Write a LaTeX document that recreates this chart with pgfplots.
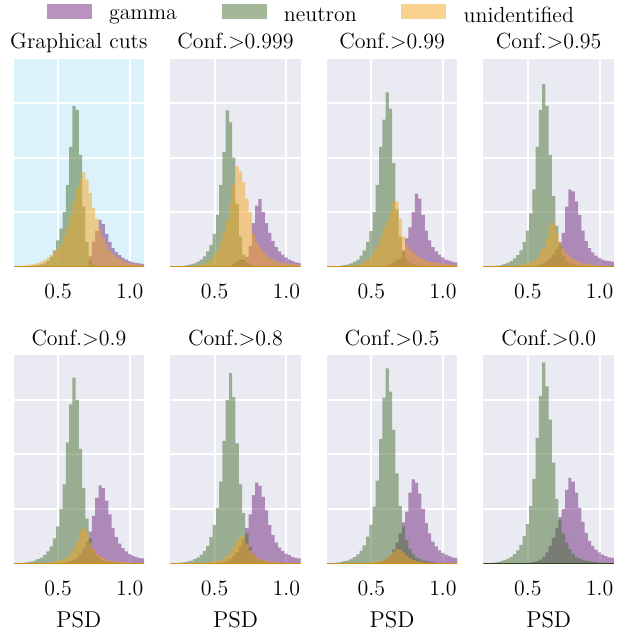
\documentclass[border=0pt]{standalone}
\usepackage{pgfplots}
\usepackage{pgfplotstable}
\pgfplotsset{compat=1.18}
\usepgfplotslibrary{groupplots}

\definecolor{gam}{RGB}{113,41,127}
\definecolor{neu}{RGB}{71,113,49}
\definecolor{uni}{RGB}{245,165,31}
\definecolor{panelbg}{RGB}{234,234,242}
\definecolor{cutbg}{RGB}{220,242,250}

% bin left edges (40 bins from 0.19 to 1.10), counts in grid units
% columns: g = gamma, n = neutron, u = unidentified
\pgfplotstableread{
x g n u
0.190 0 0 0
0.213 0 0 0
0.236 0 0 0.01
0.258 0 0 0.02
0.281 0 0 0.03
0.304 0 0.01 0.04
0.327 0 0.02 0.05
0.349 0 0.03 0.07
0.372 0 0.04 0.09
0.395 0 0.06 0.12
0.418 0 0.10 0.16
0.440 0 0.18 0.21
0.463 0 0.30 0.27
0.486 0 0.48 0.33
0.509 0 0.70 0.42
0.531 0 1.00 0.55
0.554 0 1.50 0.72
0.577 0 2.20 0.95
0.600 0 2.95 1.20
0.622 0 2.88 1.45
0.645 0 2.05 1.62
0.668 0 1.10 1.73
0.691 0 0.45 1.60
0.713 0.19 0.12 1.35
0.736 0.46 0.03 1.08
0.759 0.65 0 0.88
0.782 0.86 0 0.70
0.804 0.78 0 0.53
0.827 0.60 0 0.40
0.850 0.45 0 0.30
0.873 0.34 0 0.23
0.895 0.27 0 0.18
0.918 0.21 0 0.14
0.941 0.16 0 0.11
0.964 0.13 0 0.08
0.986 0.10 0 0.06
1.009 0.08 0 0.05
1.032 0.07 0 0.04
1.055 0.06 0 0.03
1.077 0.05 0 0.03
1.100 0 0 0
}\tA

\pgfplotstableread{
x g n u
0.190 0 0 0
0.213 0 0 0
0.236 0 0.005 0
0.258 0 0.01 0
0.281 0 0.02 0
0.304 0 0.03 0.005
0.327 0 0.04 0.01
0.349 0 0.06 0.015
0.372 0 0.09 0.02
0.395 0 0.13 0.03
0.418 0 0.19 0.05
0.440 0 0.28 0.08
0.463 0 0.40 0.13
0.486 0 0.60 0.20
0.509 0 0.95 0.30
0.531 0 1.50 0.45
0.554 0 2.10 0.62
0.577 0 2.87 0.85
0.600 0.02 2.65 1.15
0.622 0.05 2.00 1.50
0.645 0.09 1.15 1.84
0.668 0.13 0.55 1.75
0.691 0.12 0.22 1.55
0.713 0.18 0.08 1.25
0.736 0.38 0.04 1.00
0.759 0.80 0.02 0.60
0.782 1.12 0.01 0.46
0.804 1.24 0.01 0.36
0.827 1.00 0 0.28
0.850 0.80 0 0.21
0.873 0.62 0 0.16
0.895 0.47 0 0.13
0.918 0.36 0 0.10
0.941 0.28 0 0.08
0.964 0.22 0 0.07
0.986 0.17 0 0.06
1.009 0.13 0 0.05
1.032 0.10 0 0.04
1.055 0.08 0 0.04
1.077 0.07 0 0.03
1.100 0 0 0
}\tB

\pgfplotstableread{
x g n u
0.190 0 0 0
0.213 0 0 0
0.236 0 0.005 0
0.258 0 0.01 0
0.281 0 0.02 0.005
0.304 0 0.03 0.005
0.327 0 0.04 0.01
0.349 0 0.06 0.015
0.372 0 0.09 0.02
0.395 0 0.13 0.03
0.418 0 0.20 0.05
0.440 0 0.30 0.08
0.463 0 0.45 0.12
0.486 0 0.65 0.18
0.509 0 1.00 0.27
0.531 0 1.50 0.38
0.554 0 2.20 0.52
0.577 0 2.70 0.68
0.600 0.02 3.20 0.82
0.622 0.05 2.90 1.00
0.645 0.08 1.90 1.18
0.668 0.12 1.05 1.20
0.691 0.15 0.55 0.88
0.713 0.30 0.28 0.55
0.736 0.52 0.13 0.40
0.759 0.72 0.07 0.32
0.782 1.00 0.04 0.26
0.804 1.34 0.03 0.21
0.827 1.25 0.02 0.17
0.850 0.95 0.015 0.14
0.873 0.66 0.01 0.11
0.895 0.48 0.005 0.09
0.918 0.36 0.005 0.08
0.941 0.28 0 0.07
0.964 0.22 0 0.06
0.986 0.17 0 0.05
1.009 0.13 0 0.04
1.032 0.11 0 0.04
1.055 0.09 0 0.03
1.077 0.08 0 0.03
1.100 0 0 0
}\tC

\pgfplotstableread{
x g n u
0.190 0 0 0
0.213 0 0.005 0
0.236 0 0.01 0
0.258 0 0.015 0
0.281 0 0.02 0
0.304 0 0.03 0.005
0.327 0 0.05 0.005
0.349 0 0.07 0.01
0.372 0 0.10 0.01
0.395 0 0.15 0.015
0.418 0 0.21 0.02
0.440 0 0.30 0.03
0.463 0 0.45 0.04
0.486 0 0.66 0.06
0.509 0 0.98 0.08
0.531 0.01 1.42 0.11
0.554 0.02 2.20 0.16
0.577 0.04 2.88 0.24
0.600 0.06 3.35 0.34
0.622 0.10 2.95 0.52
0.645 0.16 2.05 0.75
0.668 0.22 1.30 0.81
0.691 0.32 0.75 0.62
0.713 0.45 0.40 0.45
0.736 0.62 0.20 0.33
0.759 1.10 0.10 0.25
0.782 1.42 0.06 0.19
0.804 1.38 0.04 0.14
0.827 1.20 0.03 0.11
0.850 0.95 0.02 0.08
0.873 0.66 0.015 0.06
0.895 0.47 0.01 0.05
0.918 0.34 0.01 0.04
0.941 0.26 0.005 0.035
0.964 0.20 0.005 0.03
0.986 0.16 0 0.025
1.009 0.13 0 0.02
1.032 0.11 0 0.02
1.055 0.10 0 0.015
1.077 0.09 0 0.015
1.100 0 0 0
}\tD

\pgfplotstableread{
x g n u
0.190 0 0 0
0.213 0 0.005 0
0.236 0 0.01 0
0.258 0 0.015 0
0.281 0 0.02 0
0.304 0 0.03 0.005
0.327 0 0.05 0.005
0.349 0 0.075 0.005
0.372 0 0.105 0.01
0.395 0 0.155 0.01
0.418 0 0.22 0.01
0.440 0 0.31 0.02
0.463 0 0.46 0.03
0.486 0 0.68 0.04
0.509 0 1.00 0.06
0.531 0.01 1.45 0.08
0.554 0.02 2.22 0.12
0.577 0.04 2.92 0.18
0.600 0.07 3.41 0.27
0.622 0.11 3.00 0.40
0.645 0.18 2.10 0.58
0.668 0.27 1.38 0.65
0.691 0.40 0.82 0.55
0.713 0.58 0.46 0.38
0.736 0.87 0.24 0.26
0.759 1.20 0.13 0.18
0.782 1.43 0.08 0.13
0.804 1.38 0.05 0.10
0.827 1.15 0.035 0.07
0.850 0.90 0.025 0.05
0.873 0.65 0.02 0.04
0.895 0.48 0.015 0.03
0.918 0.36 0.01 0.025
0.941 0.28 0.01 0.02
0.964 0.22 0.005 0.02
0.986 0.17 0.005 0.015
1.009 0.14 0 0.015
1.032 0.12 0 0.01
1.055 0.10 0 0.01
1.077 0.09 0 0.01
1.100 0 0 0
}\tE

\pgfplotstableread{
x g n u
0.190 0 0 0
0.213 0 0.005 0
0.236 0 0.01 0
0.258 0 0.015 0
0.281 0 0.02 0
0.304 0 0.035 0
0.327 0 0.05 0.005
0.349 0 0.075 0.005
0.372 0 0.11 0.005
0.395 0 0.16 0.01
0.418 0 0.23 0.01
0.440 0 0.32 0.015
0.463 0 0.48 0.02
0.486 0 0.70 0.03
0.509 0.01 1.02 0.04
0.531 0.015 1.50 0.06
0.554 0.025 2.25 0.09
0.577 0.045 3.00 0.14
0.600 0.08 3.49 0.20
0.622 0.13 3.05 0.30
0.645 0.20 2.20 0.42
0.668 0.30 1.45 0.50
0.691 0.45 0.92 0.48
0.713 0.65 0.55 0.36
0.736 0.90 0.30 0.24
0.759 1.25 0.16 0.16
0.782 1.48 0.10 0.11
0.804 1.42 0.065 0.08
0.827 1.22 0.045 0.06
0.850 0.97 0.03 0.04
0.873 0.70 0.02 0.03
0.895 0.52 0.015 0.025
0.918 0.38 0.01 0.02
0.941 0.29 0.01 0.015
0.964 0.23 0.005 0.015
0.986 0.18 0.005 0.01
1.009 0.15 0 0.01
1.032 0.12 0 0.01
1.055 0.10 0 0.005
1.077 0.09 0 0.005
1.100 0 0 0
}\tF

\pgfplotstableread{
x g n u
0.190 0 0 0
0.213 0 0.005 0
0.236 0 0.01 0
0.258 0 0.015 0
0.281 0 0.025 0
0.304 0 0.04 0
0.327 0 0.055 0
0.349 0 0.08 0.005
0.372 0 0.115 0.005
0.395 0 0.165 0.005
0.418 0 0.235 0.005
0.440 0 0.33 0.005
0.463 0 0.49 0.01
0.486 0 0.71 0.015
0.509 0.01 1.04 0.02
0.531 0.015 1.52 0.03
0.554 0.025 2.28 0.05
0.577 0.05 3.04 0.07
0.600 0.09 3.58 0.10
0.622 0.15 3.15 0.15
0.645 0.25 2.45 0.21
0.668 0.38 1.65 0.26
0.691 0.55 1.05 0.25
0.713 0.75 0.68 0.20
0.736 0.95 0.43 0.14
0.759 1.30 0.27 0.09
0.782 1.54 0.17 0.06
0.804 1.48 0.11 0.04
0.827 1.28 0.075 0.03
0.850 1.00 0.05 0.02
0.873 0.74 0.04 0.015
0.895 0.55 0.03 0.01
0.918 0.40 0.02 0.01
0.941 0.31 0.015 0.005
0.964 0.24 0.01 0.005
0.986 0.19 0.01 0.005
1.009 0.16 0.005 0.005
1.032 0.13 0.005 0.005
1.055 0.11 0 0.005
1.077 0.10 0 0.005
1.100 0 0 0
}\tG

\pgfplotstableread{
x g n u
0.190 0 0 0
0.213 0 0.005 0
0.236 0 0.01 0
0.258 0 0.015 0
0.281 0 0.025 0
0.304 0 0.04 0
0.327 0 0.06 0
0.349 0 0.085 0
0.372 0 0.12 0
0.395 0 0.17 0
0.418 0 0.24 0
0.440 0 0.34 0
0.463 0 0.50 0
0.486 0.01 0.72 0
0.509 0.015 1.05 0
0.531 0.02 1.55 0
0.554 0.04 2.30 0
0.577 0.07 3.07 0
0.600 0.12 3.69 0
0.622 0.20 3.25 0
0.645 0.32 2.64 0
0.668 0.47 1.85 0
0.691 0.65 1.18 0
0.713 0.85 0.80 0
0.736 1.00 0.55 0
0.759 1.35 0.38 0
0.782 1.57 0.26 0
0.804 1.50 0.18 0
0.827 1.30 0.12 0
0.850 1.02 0.09 0
0.873 0.76 0.07 0
0.895 0.56 0.05 0
0.918 0.41 0.04 0
0.941 0.32 0.03 0
0.964 0.25 0.02 0
0.986 0.20 0.015 0
1.009 0.16 0.01 0
1.032 0.13 0.01 0
1.055 0.11 0.005 0
1.077 0.10 0.005 0
1.100 0 0 0
}\tH

\pgfplotsset{
  psd/.style={
    scale only axis, width=65.5pt, height=104.5pt,
    xmin=0.19, xmax=1.1, ymin=0, ymax=3.82,
    xtick={0.5,1.0}, xticklabels={0.5,1.0},
    ytick={1,2,3}, yticklabels={,,},
    grid=major, major grid style={white, line width=1pt},
    axis line style={draw=none},
    major tick length=0pt,
    axis background/.style={fill=panelbg},
    tick label style={font=\fontsize{11}{13}\selectfont},
    xticklabel style={anchor=base, yshift=-16.2pt},
    title style={font=\fontsize{11}{13}\selectfont, at={(0.5,1)}, anchor=base, yshift=-1pt},
    xlabel style={font=\fontsize{11.5}{13}\selectfont, at={(axis description cs:0.5,0)}, anchor=base, yshift=-32pt},
    legend image code/.code={\fill[##1] (0pt,-1.2pt) rectangle (22.5pt,6.3pt);},
  },
  hg/.style={const plot, fill=gam, fill opacity=0.5, draw=none},
  hn/.style={const plot, fill=neu, fill opacity=0.5, draw=none},
  hu/.style={const plot, fill=uni, fill opacity=0.5, draw=none},
}

\newcommand{\hists}[2]{%
  \addplot[hg] table[x=x,y=g]{#1} \closedcycle;
  \addplot[hn] table[x=x,y=n]{#1} \closedcycle;
  \addplot[hu] table[x=x,y=u]{#1} \closedcycle;
  \addplot[#2, line width=0.6pt] coordinates {(0.19,0) (1.1,0)};
}

\begin{document}
\begin{tikzpicture}
\begin{groupplot}[
    group style={group size=4 by 2, horizontal sep=13.15pt, vertical sep=44.5pt},
    psd,
  ]
  \nextgroupplot[title={Graphical cuts},
    axis background/.style={fill=cutbg},
    legend columns=3,
    legend style={
      at={(2.275,1.21)}, anchor=center,
      draw=none, fill=none,
      font=\fontsize{11}{13}\selectfont,
      nodes={inner sep=0pt},
      /tikz/every odd column/.append style={column sep=8.75pt},
      /tikz/every even column/.append style={column sep=22.5pt},
    }]
  \hists{\tA}{uni!85!black}
  \legend{gamma,neutron,unidentified}
  \nextgroupplot[title={Conf.>0.999}]
  \hists{\tB}{uni!85!black}
  \nextgroupplot[title={Conf.>0.99}]
  \hists{\tC}{uni!85!black}
  \nextgroupplot[title={Conf.>0.95}]
  \hists{\tD}{uni!85!black}
  \nextgroupplot[title={Conf.>0.9}, xlabel={PSD}]
  \hists{\tE}{uni!85!black}
  \nextgroupplot[title={Conf.>0.8}, xlabel={PSD}]
  \hists{\tF}{uni!85!black}
  \nextgroupplot[title={Conf.>0.5}, xlabel={PSD}]
  \hists{\tG}{uni!85!black}
  \nextgroupplot[title={Conf.>0.0}, xlabel={PSD}]
  \addplot[hg] table[x=x,y=g]{\tH} \closedcycle;
  \addplot[hn] table[x=x,y=n]{\tH} \closedcycle;
  \addplot[neu!60!black, line width=0.6pt] coordinates {(0.19,0) (1.1,0)};
\end{groupplot}
\path (group c1r1.north west) ++(-6.5pt,28pt) rectangle ++(308.5pt,-317.5pt);
\end{tikzpicture}
\end{document}
